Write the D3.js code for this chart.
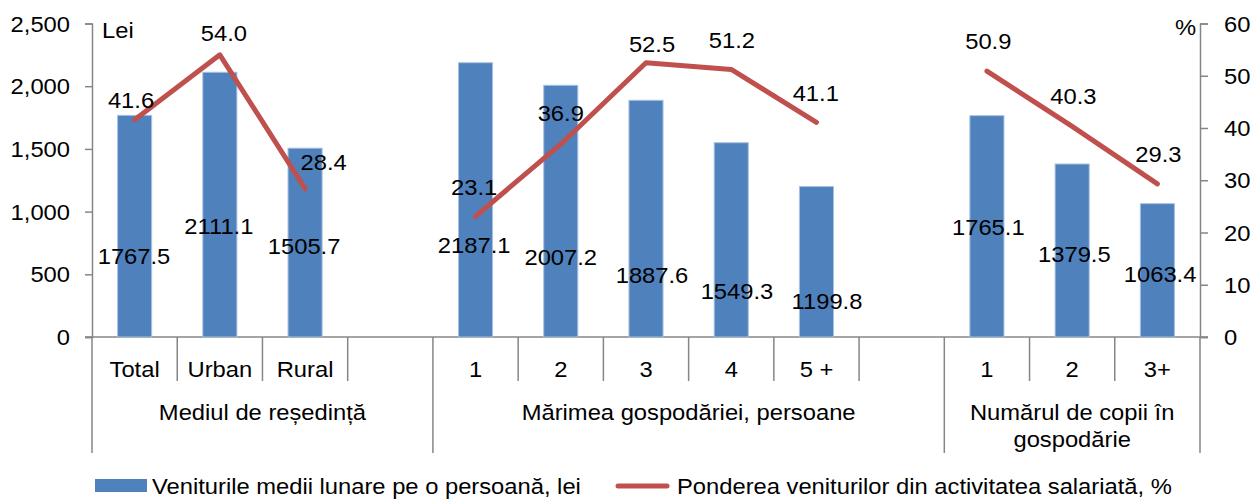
<!DOCTYPE html>
<html><head><meta charset="utf-8">
<script src="https://cdn.jsdelivr.net/npm/d3@7"></script>
<style>
html,body{margin:0;padding:0;background:#fff;}
svg{display:block;}
text{font-family:"Liberation Sans",Arial,sans-serif;fill:#000;}
</style>
</head><body>
<svg id="chart" width="1255" height="499"></svg>
<script>
// ---------- data ----------
const categories = ["Total","Urban","Rural","","1","2","3","4","5 +","","1","2","3+"];
const groupNames = [["Mediul de reședință"],["Mărimea gospodăriei, persoane"],["Numărul de copii în","gospodărie"]];
const groupSizes = [4,6,3];
const incomeValues = [1767.5, 2111.1, 1505.7, null, 2187.1, 2007.2, 1887.6, 1549.3, 1199.8, null, 1765.1, 1379.5, 1063.4];
const shareValues  = [41.6, 54.0, 28.4, null, 23.1, 36.9, 52.5, 51.2, 41.1, null, 50.9, 40.3, 29.3];
const leftTicks  = [0, 500, 1000, 1500, 2000, 2500];
const rightTicks = [0, 10, 20, 30, 40, 50, 60];
const seriesNames = ["Veniturile medii lunare pe o persoană, lei", "Ponderea veniturilor din activitatea salariată, %"];
const leftUnit = "Lei", rightUnit = "%";

// ---------- layout (label nudges in px, as placed in the original) ----------
const barLabelNudge  = [[-0.6,30],[-1,21],[-1,3.5],null,[-1.4,45],[0,46],[6,56],[5.7,51],[10.5,39],null,[1.4,0.5],[2.2,3.5],[2.7,3.7]];
const lineLabelNudge = [[-3.6,-19.6],[4,-22],[18.5,-26.6],null,[-1.4,-29],[0,-31],[6,-19],[0.7,-29.5],[-0.7,-29],null,[1.4,-30],[1.2,-30],[1,-30]];

const W = 1255, H = 499;
const m = {left: 92, right: 1200, top: 23.5, bottom: 337};
const FS = 22, SX = 1.08;
const BLUE = "#4F81BD", RED = "#C0504D", GRAY = "#868686";

const svg = d3.select("#chart");
const idx = categories.map((c,i) => i);
const x = d3.scaleBand().domain(idx).range([m.left, m.right]).paddingInner(0).paddingOuter(0);
const yL = d3.scaleLinear().domain([0, 2500]).range([m.bottom, m.top]);
const yR = d3.scaleLinear().domain([0, 60]).range([m.bottom, m.top]);
const bw = x.bandwidth();
const barW = bw * 0.4;

function txt(g, s, px, py, anchor, size) {
  return g.append("text")
    .attr("transform", `translate(${px},${py}) scale(${SX},1)`)
    .attr("text-anchor", anchor || "middle")
    .style("font-size", (size || FS) + "px")
    .text(s);
}

// ---------- axes ----------
const leftAxis = d3.axisLeft(yL).tickValues(leftTicks).tickSize(7).tickFormat(d3.format(","));
const gl = svg.append("g").attr("transform", `translate(${m.left},0)`).call(leftAxis);
gl.select(".domain").attr("stroke", GRAY).attr("stroke-width", 1.5);
gl.selectAll(".tick line").attr("stroke", GRAY).attr("stroke-width", 1.5);
gl.selectAll(".tick text").remove();
leftTicks.forEach(v => txt(gl, d3.format(",")(v), -22, yL(v) + 8, "end"));

const rightAxis = d3.axisRight(yR).tickValues(rightTicks).tickSize(8);
const gr = svg.append("g").attr("transform", `translate(${m.right},0)`).call(rightAxis);
gr.select(".domain").attr("stroke", GRAY).attr("stroke-width", 1.5);
gr.selectAll(".tick line").attr("stroke", GRAY).attr("stroke-width", 1.5);
gr.selectAll(".tick text").remove();
rightTicks.forEach(v => txt(gr, String(v), 24, yR(v) + 8, "start"));

// unit labels
txt(svg, leftUnit, m.left + 10, 38, "start");
txt(svg, rightUnit, m.right - 4, 35, "end");

// horizontal category axis
svg.append("line").attr("x1", m.left - 7).attr("x2", m.right + 8)
  .attr("y1", m.bottom).attr("y2", m.bottom).attr("stroke", GRAY).attr("stroke-width", 1.5);

// category boundaries
let groupStarts = [0];
groupSizes.forEach((s,i) => groupStarts.push(groupStarts[i] + s));
for (let i = 0; i <= categories.length; i++) {
  const bx = i < categories.length ? x(i) : m.right;
  const isGroup = groupStarts.includes(i);
  svg.append("line").attr("x1", bx).attr("x2", bx)
    .attr("y1", m.bottom).attr("y2", isGroup ? 453 : 381)
    .attr("stroke", GRAY).attr("stroke-width", 1.5);
}
categories.forEach((c,i) => { if (c) txt(svg, c, x(i) + bw/2, 377, "middle", 22); });
groupNames.forEach((lines, gi) => {
  const x0 = x(groupStarts[gi]);
  const x1 = groupStarts[gi+1] < categories.length ? x(groupStarts[gi+1]) : m.right;
  lines.forEach((ln, li) => txt(svg, ln, (x0 + x1)/2, 420 + li*27, "middle", 22));
});

// ---------- bars ----------
const barData = incomeValues.map((v,i) => ({i, v})).filter(d => d.v != null);
svg.append("g").selectAll("rect").data(barData).join("rect")
  .attr("x", d => x(d.i) + (bw - barW)/2)
  .attr("y", d => yL(d.v))
  .attr("width", barW)
  .attr("height", d => yL(0) - yL(d.v))
  .attr("fill", BLUE)
  .attr("stroke", "#A9C1E0").attr("stroke-width", 1);

// ---------- line ----------
const lineData = shareValues.map((v,i) => ({i, v}));
const line = d3.line().defined(d => d.v != null)
  .x(d => x(d.i) + bw/2).y(d => yR(d.v));
svg.append("path").datum(lineData).attr("d", line)
  .attr("fill", "none").attr("stroke", RED).attr("stroke-width", 5)
  .attr("stroke-linejoin", "round").attr("stroke-linecap", "round");

// ---------- data labels ----------
const lab = svg.append("g");
barData.forEach(d => {
  const n = barLabelNudge[d.i];
  const cx = x(d.i) + bw/2 + n[0];
  const cy = (yL(d.v) + yL(0))/2 + n[1];
  txt(lab, d.v.toFixed(1), cx, cy + 8, "middle", 22);
});
lineData.filter(d => d.v != null).forEach(d => {
  const n = lineLabelNudge[d.i];
  const cx = x(d.i) + bw/2 + n[0];
  const cy = yR(d.v) + n[1];
  txt(lab, d.v.toFixed(1), cx, cy + 8, "middle", 22);
});

// ---------- legend ----------
const lg = svg.append("g");
lg.append("rect").attr("x", 95).attr("y", 479).attr("width", 52).attr("height", 13).attr("fill", BLUE);
txt(lg, seriesNames[0], 152, 494, "start", 22);
lg.append("line").attr("x1", 618).attr("x2", 667).attr("y1", 486).attr("y2", 486)
  .attr("stroke", RED).attr("stroke-width", 5).attr("stroke-linecap", "round");
txt(lg, seriesNames[1], 677, 494, "start", 22);
</script>
</body></html>
